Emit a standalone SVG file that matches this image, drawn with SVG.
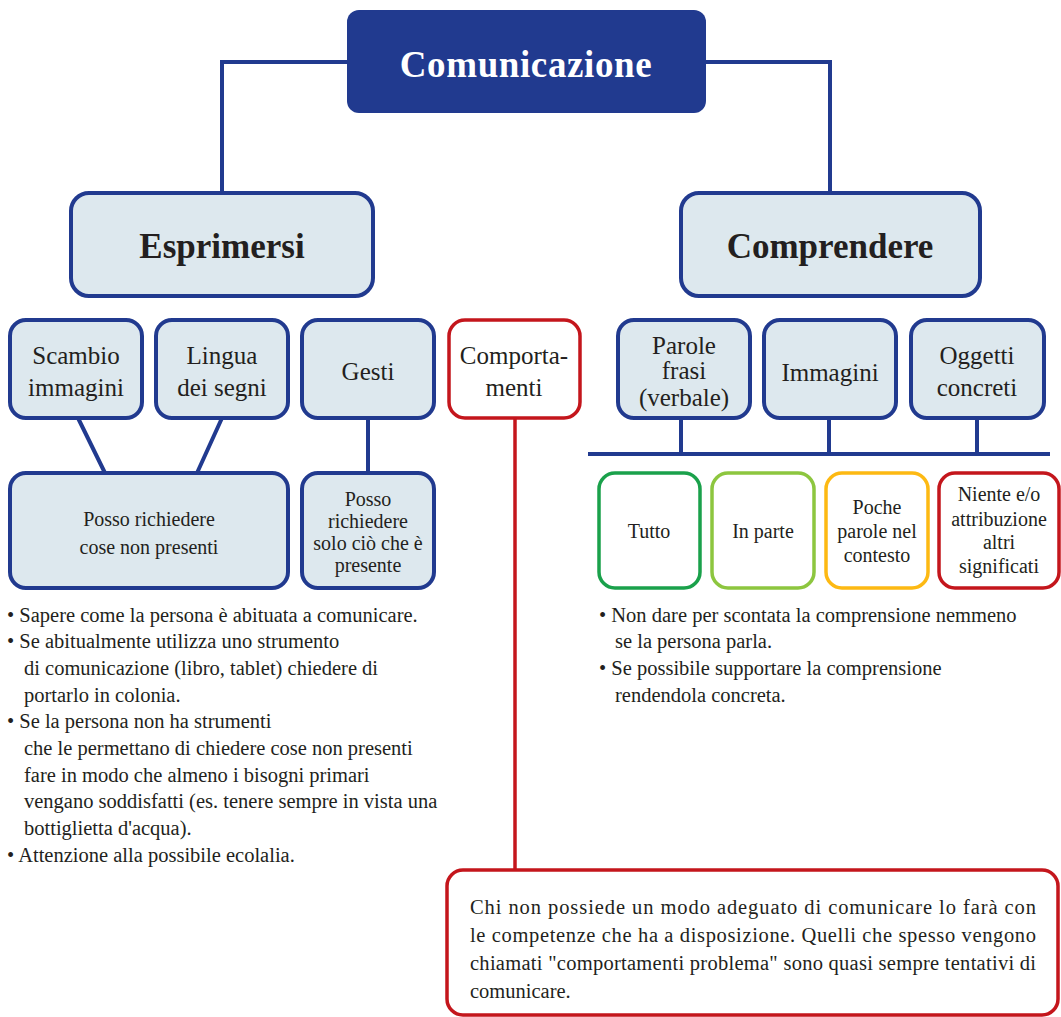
<svg xmlns="http://www.w3.org/2000/svg" width="1061" height="1017" viewBox="0 0 1061 1017">
<style>
text{font-family:"Liberation Serif","DejaVu Serif",serif;fill:#231f20;}
.blue{fill:#dde8ee;stroke:#213a8f;stroke-width:4;}
.red{fill:#fff;stroke:#c4161c;stroke-width:3.5;}
.lb{font-size:25px;text-anchor:middle;}
.sm{font-size:20px;text-anchor:middle;}
.body{font-size:20.5px;}
.title{font-size:35px;font-weight:bold;text-anchor:middle;}
.conn{fill:none;stroke:#213a8f;stroke-width:4;}
</style>
<g id="connectors">
<path class="conn" d="M347 62H222V193M706 62H830V193"/>
<path class="conn" d="M78 418L105 473M222 418L197 473M368 418V473"/>
<path class="conn" d="M681 418V454M829 418V454M977 418V454M588 454H1050"/>
<path fill="none" stroke="#c4161c" stroke-width="3.5" d="M515 418V870"/>
</g>
<g id="comunicazione"><rect x="347" y="10" width="359" height="103" rx="12" fill="#213a8f"/><text class="title" x="526" y="77" style="fill:#fff;font-size:37px;letter-spacing:0.6px">Comunicazione</text></g>
<g id="esprimersi"><rect class="blue" x="71" y="193" width="302" height="103" rx="18"/><text class="title" x="222" y="258">Esprimersi</text></g>
<g id="comprendere"><rect class="blue" x="681" y="193" width="299" height="103" rx="18"/><text class="title" x="830" y="258">Comprendere</text></g>
<g id="scambio"><rect class="blue" x="10" y="320" width="132" height="98" rx="16"/><text class="lb" x="76" y="364">Scambio</text><text class="lb" x="76" y="396">immagini</text></g>
<g id="lingua"><rect class="blue" x="156" y="320" width="132" height="98" rx="16"/><text class="lb" x="222" y="364">Lingua</text><text class="lb" x="222" y="396">dei segni</text></g>
<g id="gesti"><rect class="blue" x="302" y="320" width="132" height="98" rx="16"/><text class="lb" x="368" y="380">Gesti</text></g>
<g id="comportamenti"><rect class="red" x="449" y="320" width="131" height="98" rx="16"/><text class="lb" x="514" y="364">Comporta-</text><text class="lb" x="514" y="396">menti</text></g>
<g id="parole"><rect class="blue" x="618" y="320" width="132" height="98" rx="16"/><text class="lb" x="684" y="354">Parole</text><text class="lb" x="684" y="379">frasi</text><text class="lb" x="684" y="406">(verbale)</text></g>
<g id="immagini"><rect class="blue" x="764" y="320" width="132" height="98" rx="16"/><text class="lb" x="830" y="381">Immagini</text></g>
<g id="oggetti"><rect class="blue" x="911" y="320" width="133" height="98" rx="16"/><text class="lb" x="977" y="364">Oggetti</text><text class="lb" x="977" y="396">concreti</text></g>
<g id="posso1"><rect class="blue" x="10" y="473" width="278" height="115" rx="16"/><text class="sm" x="149" y="526">Posso richiedere</text><text class="sm" x="149" y="554">cose non presenti</text></g>
<g id="posso2"><rect class="blue" x="302" y="473" width="132" height="115" rx="16"/><text class="sm" x="368" y="506">Posso</text><text class="sm" x="368" y="528">richiedere</text><text class="sm" x="368" y="550">solo ciò che è</text><text class="sm" x="368" y="572">presente</text></g>
<g id="tutto"><rect x="599" y="473" width="101" height="115" rx="16" fill="#fff" stroke="#1aa14b" stroke-width="3.5"/><text class="sm" x="649" y="538">Tutto</text></g>
<g id="inparte"><rect x="712" y="473" width="102" height="115" rx="16" fill="#fff" stroke="#8dc63f" stroke-width="3.5"/><text class="sm" x="763" y="538">In parte</text></g>
<g id="poche"><rect x="826" y="473" width="102" height="115" rx="16" fill="#fff" stroke="#fdb913" stroke-width="3.5"/><text class="sm" x="877" y="514">Poche</text><text class="sm" x="877" y="538">parole nel</text><text class="sm" x="877" y="562">contesto</text></g>
<g id="niente"><rect x="939" y="473" width="120" height="115" rx="16" fill="#fff" stroke="#c4161c" stroke-width="3.5"/><text class="sm" x="999" y="501">Niente e/o</text><text class="sm" x="999" y="526">attribuzione</text><text class="sm" x="999" y="549">altri</text><text class="sm" x="999" y="573">significati</text></g>
<g id="note-left">
<text class="body" x="7" y="622">• Sapere come la persona è abituata a comunicare.</text>
<text class="body" x="7" y="648">• Se abitualmente utilizza uno strumento</text>
<text class="body" x="24" y="675">di comunicazione (libro, tablet) chiedere di</text>
<text class="body" x="24" y="702">portarlo in colonia.</text>
<text class="body" x="7" y="728">• Se la persona non ha strumenti</text>
<text class="body" x="24" y="755">che le permettano di chiedere cose non presenti</text>
<text class="body" x="24" y="782">fare in modo che almeno i bisogni primari</text>
<text class="body" x="24" y="808">vengano soddisfatti (es. tenere sempre in vista una</text>
<text class="body" x="24" y="835">bottiglietta d'acqua).</text>
<text class="body" x="7" y="862">• Attenzione alla possibile ecolalia.</text>
</g>
<g id="note-right">
<text class="body" x="599" y="622">• Non dare per scontata la comprensione nemmeno</text>
<text class="body" x="615" y="648">se la persona parla.</text>
<text class="body" x="599" y="675">• Se possibile supportare la comprensione</text>
<text class="body" x="615" y="702">rendendola concreta.</text>
</g>
<g id="nota-comportamenti"><rect class="red" x="447" y="870" width="611" height="145" rx="16"/>
<text class="body" x="470" y="914" textLength="566" lengthAdjust="spacing">Chi non possiede un modo adeguato di comunicare lo farà con</text>
<text class="body" x="470" y="942" textLength="566" lengthAdjust="spacing">le competenze che ha a disposizione. Quelli che spesso vengono</text>
<text class="body" x="470" y="970" textLength="566" lengthAdjust="spacing">chiamati "comportamenti problema" sono quasi sempre tentativi di</text>
<text class="body" x="470" y="998">comunicare.</text>
</g>
</svg>
